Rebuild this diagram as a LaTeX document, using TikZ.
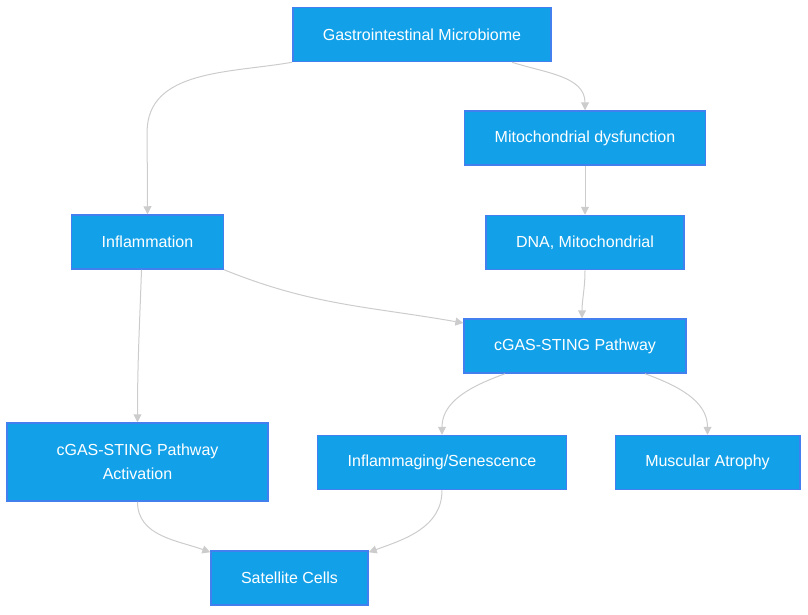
\documentclass[tikz,border=0pt]{standalone}
\usepackage{fontspec}
\setmainfont{Liberation Sans}
\usetikzlibrary{arrows.meta}
\usetikzlibrary{calc}

\definecolor{boxfill}{RGB}{18,161,233}
\definecolor{boxline}{RGB}{66,128,240}
\definecolor{linkgray}{RGB}{204,204,204}

\begin{document}
\begin{tikzpicture}[x=1pt, y=-1pt,
  every node/.style={draw=boxline, fill=boxfill, text=white, line width=1.5pt, inner xsep=30pt, minimum height=54pt, font=\fontsize{16}{24}\selectfont},
  flow/.style={draw=linkgray, line width=1pt, -{Triangle[length=8pt, width=8pt]}}]
\useasboundingbox (0,0) rectangle (808,614);

\node (gm) at (422,34.5) {Gastrointestinal Microbiome};
\node (mito) at (585,138) {Mitochondrial dysfunction};
\node (infl) at (147.5,242) {Inflammation};
\node (dna) at (585,242.5) {DNA, Mitochondrial};
\node (cgas) at (575,346) {cGAS-STING Pathway};
\node (act) at (137.5,462) [minimum width=261pt, minimum height=78pt, align=center] {cGAS-STING Pathway\\Activation};
\node (senes) at (442,462.5) {Inflammaging/Senescence};
\node (atro) at (707.5,462.5) {Muscular Atrophy};
\node (sat) at (289.5,578) {Satellite Cells};

\draw[flow] (gm.south west) to[out=190, in=90] ++(-145,70) -- (infl.north);
\draw[flow] ([xshift=90pt]gm.south) to[out=-18, in=90] (mito.north);
\draw[flow] (mito) -- (dna);
\draw[flow] (infl.south east) to[out=-22, in=170] ([yshift=23pt]cgas.west);
\draw[flow] (dna.south) to[out=-90, in=90] ([xshift=7pt]cgas.north);
\draw[flow] ([xshift=-6pt]infl.south) to[out=-92, in=90] (act.north);
\draw[flow] ([xshift=-70pt]cgas.south) to[out=200, in=90] (senes.north);
\draw[flow] ([xshift=70pt]cgas.south) to[out=-20, in=90] (atro.north);
\draw[flow] (act.south) to[out=-90, in=160] ([yshift=-2pt]sat.north west);
\draw[flow] (senes.south) to[out=-90, in=20] ([yshift=-2pt]sat.north east);
\end{tikzpicture}
\end{document}
